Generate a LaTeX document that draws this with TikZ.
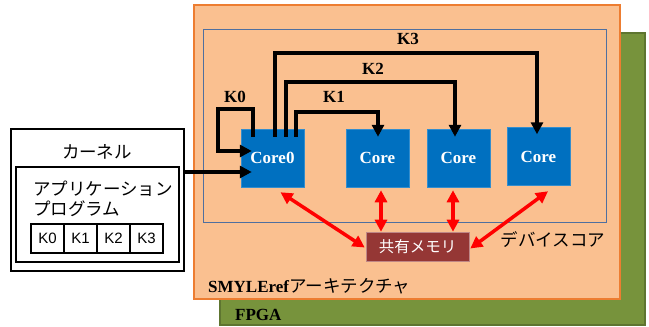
\documentclass[tikz,border=0pt]{standalone}
\usepackage{fontspec}
\setmainfont{Liberation Serif}
\newfontfamily\jp{Noto Sans CJK JP}
\newfontfamily\sansf{Liberation Sans}
\usetikzlibrary{arrows.meta,calc}
\definecolor{fpgagreen}{HTML}{77933C}
\definecolor{fpgaborder}{HTML}{5E7530}
\definecolor{archfill}{HTML}{FAC090}
\definecolor{archborder}{HTML}{ED7D31}
\definecolor{devborder}{HTML}{4F6F9F}
\definecolor{coreblue}{HTML}{0070C0}
\definecolor{memred}{HTML}{953735}
\tikzset{
  corebox/.style={draw=coreblue!80!white, line width=0.5pt, fill=coreblue, minimum width=63pt, minimum height=58pt, inner sep=0pt, text=white, font=\fontsize{17}{20}\selectfont\bfseries},
  karrow/.style={line width=3.5pt, black, -{Triangle[length=12pt,width=12pt]}},
  klabel/.style={font=\fontsize{17}{20}\selectfont\bfseries, inner sep=0pt},
  redarrow/.style={line width=3.5pt, red, {Triangle[length=12pt,width=12pt]}-{Triangle[length=12pt,width=12pt]}},
  jptext/.style={font=\jp\fontsize{17.5}{20}\selectfont, inner sep=0pt},
  kcell/.style={draw, line width=2pt, minimum width=33pt, minimum height=29pt, inner sep=0pt, font=\sansf\fontsize{15}{18}\selectfont},
}
\begin{document}
\begin{tikzpicture}[x=1pt,y=-1pt]
\useasboundingbox (0,0) rectangle (649,327);
\fill[white] (0,0) rectangle (649,327);
% FPGA
\node[draw=fpgaborder, line width=1.2pt, fill=fpgagreen, minimum width=425pt, minimum height=292pt, inner sep=0pt] (fpga) at (432.5,179) {};
\node[anchor=west, font=\fontsize{17}{20}\selectfont\bfseries, inner sep=0pt] (fpgalbl) at (235,315) {FPGA};
% architecture
\node[draw=archborder, line width=1.5pt, fill=archfill, minimum width=426pt, minimum height=294pt, inner sep=0pt] (arch) at (407,152) {};
\node[anchor=west, inner sep=0pt] (archlbl) at (208,286) {\fontsize{17}{20}\selectfont\bfseries SMYLEref\jp\mdseries\fontsize{17.5}{20}\selectfont アーキテクチャ};
% device core
\node[draw=devborder, line width=1pt, minimum width=403pt, minimum height=193pt, inner sep=0pt] (dev) at (404.5,125.5) {};
\node[jptext] (devlbl) at (553,240) {デバイスコア};
% cores
\node[corebox] (c0) at (272.5,158) {Core0};
\node[corebox] (c1) at (377.5,158) {Core};
\node[corebox] (c2) at (458.5,158) {Core};
\node[corebox] (c3) at (538.5,156.5) {Core};
% K connectors
\draw[karrow] ($(c0.north west)+(12,8)$) -- ++(0,-28) -- ++(-35,0) |- ($(c0.west)+(11,-7)$);
\draw[karrow] ($(c0.north west)+(34,8)$) |- (537,53) -- ($(c3.north -| 537,0)+(0,7)$);
\draw[karrow] ($(c0.north west)+(45,8)$) |- (455,82) -- ($(c2.north -| 455,0)+(0,8)$);
\draw[karrow] ($(c0.north west)+(55,8)$) |- (378,112) -- ($(c1.north -| 378,0)+(0,8)$);
\node[klabel] (k0) at (235,97) {K0};
\node[klabel] (k1) at (334,97) {K1};
\node[klabel] (k2) at (373,69) {K2};
\node[klabel] (k3) at (408,39) {K3};
% shared memory
\node[draw=memred!60!white, line width=0.6pt, fill=memred, minimum width=103pt, minimum height=29pt, inner sep=0pt, text=white, font=\jp\fontsize{15.5}{18}\selectfont] (mem) at (417.5,246.5) {共有メモリ};
\draw[redarrow] ($(c0.south)+(8,5)$) -- ($(mem.west)+(-1,1)$);
\draw[redarrow] ($(c1.south)+(3.5,3)$) -- (mem.north -| 381,0);
\draw[redarrow] ($(c2.south)+(-5.5,3)$) -- (mem.north -| 453,0);
\draw[redarrow] ($(c3.south)+(9.5,5.5)$) -- ($(mem.east)+(1,2)$);
% kernel
\node[draw, line width=1.5pt, fill=white, minimum width=173pt, minimum height=142pt, inner sep=0pt] (kern) at (97.5,200) {};
\node[jptext] (kernlbl) at (97,152) {カーネル};
\node[draw, line width=1.5pt, minimum width=163pt, minimum height=95pt, inner sep=0pt] (app) at (97.5,214.5) {};
\node[jptext, anchor=west] (app1) at (33,189) {アプリケーション};
\node[jptext, anchor=west] (app2) at (33,209) {プログラム};
\node[kcell] (kc0) at (47.5,238.5) {K0};
\node[kcell] (kc1) at (80.5,238.5) {K1};
\node[kcell] (kc2) at (113.5,238.5) {K2};
\node[kcell] (kc3) at (146.5,238.5) {K3};
\draw[karrow] (kern.east |- 0,172) -- ($(c0.west |- 0,172)+(11,0)$);
\end{tikzpicture}
\end{document}
